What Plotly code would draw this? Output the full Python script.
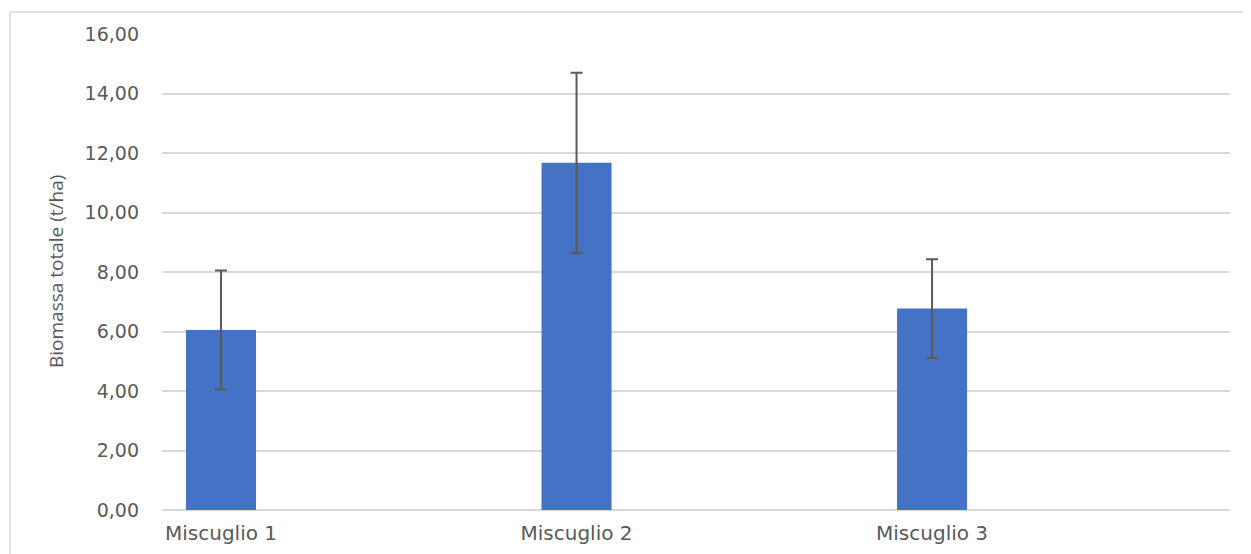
import plotly.graph_objects as go

categories = ["Miscuglio 1", "Miscuglio 2", "Miscuglio 3"]
biomass = [6.05, 11.67, 6.77]
errors = [2.0, 3.03, 1.66]
y_ticks = [0, 2, 4, 6, 8, 10, 12, 14, 16]

W, H = 1251, 554
OFF = 8  # page body margin
# desired plot area in screenshot pixels: x 162..1230, y 34..510
L = 162 - OFF
T = 34 - OFF
R = W - (1230 - OFF)
B = H - (510 - OFF)
pw = W - L - R
ph = H - T - B

def px_x(p):
    return (p - OFF - L) / pw

def px_y(p):
    return (H - B - (p - OFF)) / ph

fig = go.Figure()
fig.add_trace(go.Bar(
    x=categories, y=biomass,
    width=0.197,
    marker=dict(color="#4472C4", line=dict(width=0)),
    error_y=dict(type="data", array=errors, visible=True,
                 color="#595959", thickness=2, width=6),
))

border = dict(color="#d9d9d9", width=1.5)

fig.update_layout(
    width=W, height=H,
    margin=dict(l=L, r=R, t=T, b=B),
    paper_bgcolor="white", plot_bgcolor="white",
    separators=",.",
    showlegend=False,
    font=dict(family="DejaVu Sans", color="#595959"),
    xaxis=dict(type="category", range=[-0.166, 2.838], showgrid=False,
               showline=False, ticks="", zeroline=False, ticklabelstandoff=9,
               tickfont=dict(size=20, color="#595959", family="DejaVu Sans")),
    yaxis=dict(range=[0, 16], tickvals=y_ticks, tickformat=".2f",
               showgrid=True, gridcolor="#d9d9d9", gridwidth=1.5,
               zeroline=True, zerolinecolor="#d9d9d9", zerolinewidth=1.5,
               showline=False, ticks="", ticklabelstandoff=22,
               tickfont=dict(size=19, color="#595959", family="DejaVu Sans")),
    annotations=[dict(
        text="Biomassa totale (t/ha)", textangle=-90,
        xref="paper", yref="paper", x=px_x(56), y=px_y(272),
        xanchor="center", yanchor="middle", showarrow=False,
        font=dict(size=19, color="#595959", family="Open Sans"),
    )],
    shapes=[
        dict(type="line", xref="paper", yref="paper",
             x0=px_x(10), x1=px_x(1260), y0=px_y(12), y1=px_y(12),
             line=border, layer="below"),
        dict(type="line", xref="paper", yref="paper",
             x0=px_x(10), x1=px_x(10), y0=px_y(12), y1=px_y(600),
             line=border, layer="below"),
    ],
)

fig.write_html("out.html")
